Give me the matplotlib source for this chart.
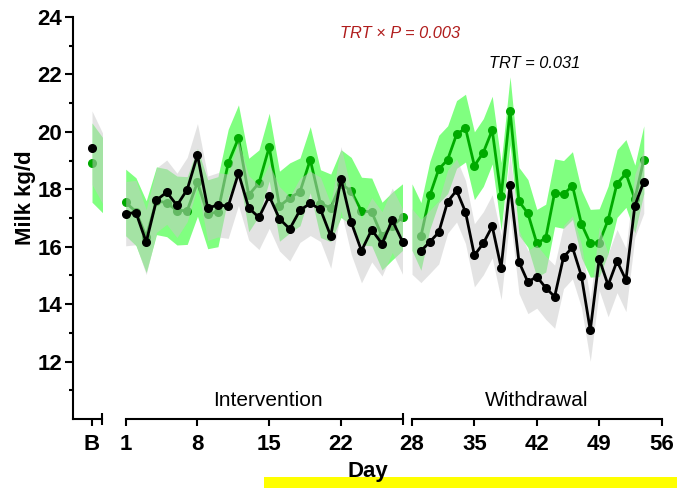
import matplotlib
matplotlib.use("Agg")
import matplotlib.pyplot as plt
from matplotlib.patches import Rectangle
from matplotlib.ticker import FixedLocator

plt.rcParams['font.family'] = ['Liberation Sans', 'DejaVu Sans']

# ---------------- data ----------------
# Baseline (B)
b_black = 19.45
b_green = 18.93
b_black_se = 1.28
b_green_se = 1.38

# Intervention, days 1..28
int_days = list(range(1, 29))
int_black = [17.15, 17.19, 16.16, 17.62, 17.90, 17.44, 17.99, 19.19, 17.34, 17.46,
             17.41, 18.56, 17.35, 17.02, 17.76, 16.97, 16.62, 17.27, 17.51, 17.30,
             16.37, 18.37, 16.85, 15.86, 16.59, 16.10, 16.92, 16.18]
int_green = [17.54, 17.22, 16.35, 17.60, 17.53, 17.26, 17.26, 18.24, 17.13, 17.22,
             18.91, 19.78, 17.80, 18.22, 19.47, 17.41, 17.70, 17.91, 19.03, 17.50,
             17.35, 18.20, 17.93, 17.24, 17.21, 16.37, 16.72, 17.03]
int_black_se = [1.12, 1.12, 1.13, 1.12, 1.12, 1.12, 1.12, 1.10, 1.12, 1.12,
                1.12, 1.12, 1.12, 1.12, 1.12, 1.12, 1.12, 1.12, 1.12, 1.12,
                1.12, 1.12, 1.12, 1.12, 1.12, 1.12, 1.12, 1.14]
int_green_se = [1.16, 1.18, 1.25, 1.18, 1.18, 1.20, 1.18, 1.18, 1.20, 1.22,
                1.18, 1.16, 1.28, 1.15, 1.18, 1.22, 1.22, 1.18, 1.15, 1.18,
                1.18, 1.18, 1.18, 1.18, 1.18, 1.18, 1.18, 1.16]

# Withdrawal, days 29..54
wd_days = list(range(29, 55))
wd_black = [15.85, 16.17, 16.50, 17.57, 17.96, 17.21, 15.70, 16.12, 16.71, 15.27,
            18.16, 15.47, 14.77, 14.96, 14.57, 14.26, 15.64, 15.98, 14.99, 13.09,
            15.58, 14.66, 15.50, 14.84, 17.43, 18.26]
wd_green = [16.36, 17.79, 18.70, 19.03, 19.91, 20.13, 18.82, 19.28, 20.06, 17.75,
            20.74, 17.58, 17.16, 16.12, 16.30, 17.88, 17.82, 18.13, 16.80, 16.12,
            16.14, 16.93, 18.20, 18.55, 17.66, 19.03]
wd_black_se = [1.10, 1.10, 1.10, 1.10, 1.10, 1.10, 1.10, 1.10, 1.10, 1.11,
               1.10, 1.10, 1.10, 1.10, 1.10, 1.10, 1.10, 1.10, 1.10, 1.08,
               1.10, 1.10, 1.10, 1.10, 1.10, 1.10]
wd_green_se = [1.18, 1.18, 1.18, 1.18, 1.18, 1.18, 1.18, 1.18, 1.18, 1.18,
               1.18, 1.18, 1.18, 1.18, 1.18, 1.18, 1.18, 1.18, 1.18, 1.18,
               1.18, 1.18, 1.18, 1.18, 1.18, 1.18]

y_ticks = [12, 14, 16, 18, 20, 22, 24]
int_ticks = [1, 8, 15, 22]
wd_ticks = [28, 35, 42, 49, 56]

# ---------------- style ----------------
GREEN_LINE = '#00aa00'
GREEN_BAND = '#80ff80'
GREY_BAND = '#c8c8c8'
W, H = 677, 488
TICK_FS = 16

fig = plt.figure(figsize=(W / 100, H / 100), dpi=100)


def rect(xl, xr):
    return [xl / W, 69 / H, (xr - xl) / W, 402 / H]


ax0 = fig.add_axes(rect(73, 101.5))
ax1 = fig.add_axes(rect(125.7, 402.5))
ax2 = fig.add_axes(rect(412, 661.6))

for ax in (ax0, ax1, ax2):
    ax.set_ylim(10, 24)
    ax.patch.set_alpha(0)
    for s in ('top', 'right'):
        ax.spines[s].set_visible(False)
    ax.spines['bottom'].set_linewidth(1.5)
    ax.spines['left'].set_linewidth(1.5)
    ax.tick_params(axis='x', which='major', direction='out', length=5, width=1.5,
                   labelsize=TICK_FS, pad=6)
    ax.tick_params(axis='x', which='minor', direction='inout', length=8, width=1.5)

for ax in (ax1, ax2):
    ax.spines['left'].set_visible(False)
    ax.set_yticks([])

ax0.yaxis.set_major_locator(FixedLocator(y_ticks))
ax0.yaxis.set_minor_locator(FixedLocator([t - 1 for t in y_ticks]))
ax0.tick_params(axis='y', which='major', direction='out', length=6, width=1.5,
                labelsize=TICK_FS, pad=2)
ax0.tick_params(axis='y', which='minor', direction='out', length=3, width=1.5)
ax0.set_yticklabels([str(t) for t in y_ticks], fontweight='bold')


def draw(ax, bx, bg, bgse, bb, bbse, lx, lg, lb):
    ax.fill_between(bx, [g - s for g, s in zip(bg, bgse)], [g + s for g, s in zip(bg, bgse)],
                    color=GREEN_BAND, lw=0, zorder=1)
    ax.plot(lx, lg, color=GREEN_LINE, lw=2, marker='o', ms=5.5, zorder=2, clip_on=False)
    ax.fill_between(bx, [b - s for b, s in zip(bb, bbse)], [b + s for b, s in zip(bb, bbse)],
                    color=GREY_BAND, alpha=0.5, lw=0, zorder=3)
    ax.plot(lx, lb, color='black', lw=2, marker='o', ms=5.5, zorder=4, clip_on=False)


# Baseline segment: B at 0, band runs towards day 1 and is clipped by the segment
draw(ax0, [0, 1], [b_green, int_green[0]], [b_green_se, int_green_se[0]],
     [b_black, int_black[0]], [b_black_se, int_black_se[0]],
     [0], [b_green], [b_black])
ax0.set_xlim(-0.564, 0.282)
ax0.set_xticks([0])
ax0.set_xticklabels(['B'], fontweight='bold', fontsize=TICK_FS)
ax0.xaxis.set_minor_locator(FixedLocator([0.282]))

# Intervention
draw(ax1, int_days, int_green, int_green_se, int_black, int_black_se,
     int_days, int_green, int_black)
ax1.set_xlim(1, 28)
ax1.set_xticks(int_ticks)
ax1.set_xticklabels([str(t) for t in int_ticks], fontweight='bold', fontsize=TICK_FS)
ax1.xaxis.set_minor_locator(FixedLocator([1, 28]))

# Withdrawal: band starts from the last intervention value, clipped at 28
draw(ax2, [int_days[-1]] + wd_days, [int_green[-1]] + wd_green,
     [int_green_se[-1]] + wd_green_se, [int_black[-1]] + wd_black,
     [int_black_se[-1]] + wd_black_se, wd_days, wd_green, wd_black)
ax2.set_xlim(28, 56)
ax2.set_xticks(wd_ticks)
ax2.set_xticklabels([str(t) for t in wd_ticks], fontweight='bold', fontsize=TICK_FS)
ax2.xaxis.set_minor_locator(FixedLocator([28, 56]))

# Texts
fig.text(25 / W, 1 - 198 / H, 'Milk kg/d', rotation=90, ha='center', va='center',
         fontsize=TICK_FS, fontweight='bold')
fig.text(268 / W, 1 - 400 / H, 'Intervention', ha='center', va='center', fontsize=15)
fig.text(537 / W, 1 - 400 / H, 'Withdrawal', ha='center', va='center', fontsize=15)
fig.text(400 / W, 1 - 34 / H, 'TRT × P = 0.003', ha='center', va='center',
         fontsize=11.8, style='italic', color='#b01c1c')
fig.text(535 / W, 1 - 63 / H, 'TRT = 0.031', ha='center', va='center',
         fontsize=11.8, style='italic', color='black')

fig.patches.append(Rectangle((264 / W, 0), (W - 264) / W, 11 / H, transform=fig.transFigure,
                             facecolor='#ffff00', edgecolor='none', zorder=0))
fig.text(368 / W, 1 - 472 / H, 'Day', ha='center', va='center', fontsize=TICK_FS,
         fontweight='bold', zorder=5)

fig.savefig('out.png', dpi=100)
